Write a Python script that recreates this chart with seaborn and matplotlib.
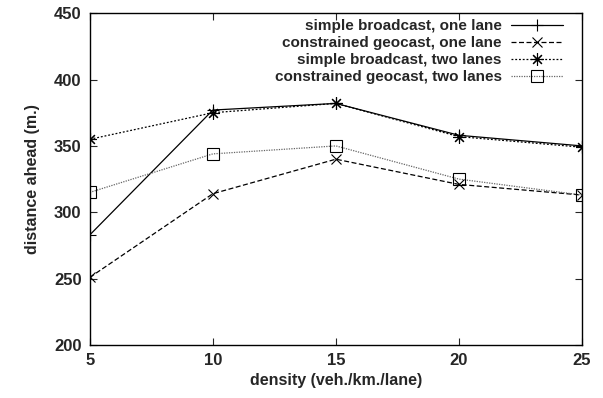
import matplotlib
matplotlib.use("Agg")
import matplotlib.pyplot as plt
import seaborn as sns
import pandas as pd

density = [5, 10, 15, 20, 25]
sb_one = [283, 377, 382, 358, 350]
cg_one = [251, 314, 340, 321, 313]
sb_two = [355, 375, 382, 357, 349]
cg_two = [315, 344, 350, 325, 313]
labels = ["simple broadcast, one lane", "constrained geocast, one lane",
          "simple broadcast, two lanes", "constrained geocast, two lanes"]
series = [sb_one, cg_one, sb_two, cg_two]

sns.set_style("ticks")
plt.rcParams['font.family'] = ['Liberation Sans', 'DejaVu Sans']
plt.rcParams['font.weight'] = 'bold'

fig = plt.figure(figsize=(6.03, 3.98), dpi=100)
ax = fig.add_axes([0.149, 0.133, 0.816, 0.834])

styles = [
    dict(marker='+', linestyle='-', color='black', markersize=9),
    dict(marker='x', linestyle=(0, (4, 2)), color='black', markersize=7.5),
    dict(marker=(8, 2, 0), linestyle=(0, (1.5, 1.5)), color='black', markersize=9),
    dict(marker='s', linestyle=(0, (1, 1)), color='#666666', markersize=8,
         markerfacecolor='none'),
]

for lab, vals, st in zip(labels, series, styles):
    df = pd.DataFrame({"density": density, "distance": vals})
    sns.lineplot(data=df, x="density", y="distance", ax=ax, label=lab, lw=0.9,
                 markeredgecolor='black', markeredgewidth=0.8, **st)

ax.set_xlim(5, 25)
ax.set_ylim(200, 450)
ax.set_xticks([5, 10, 15, 20, 25])
ax.set_yticks([200, 250, 300, 350, 400, 450])
ax.tick_params(direction='in', length=5, width=0.8, top=True, right=True, labelsize=12, pad=6)
for t in ax.get_xticklabels() + ax.get_yticklabels():
    t.set_fontweight('bold')
for s in ax.spines.values():
    s.set_linewidth(1.0)
    s.set_color('black')
ax.set_xlabel("density (veh./km./lane)", fontsize=11.5, fontweight='bold', labelpad=3)
ax.set_ylabel("distance ahead (m.)", fontsize=11.5, fontweight='bold', labelpad=10)

leg = ax.legend(loc='upper right', markerfirst=False, frameon=False,
                fontsize=11, labelspacing=0.2, borderpad=0.0, handlelength=3.4,
                handletextpad=0.6, borderaxespad=0.0, bbox_to_anchor=(0.9614, 0.982))
for t in leg.get_texts():
    t.set_fontweight('bold')

fig.savefig("out.png", dpi=100)
